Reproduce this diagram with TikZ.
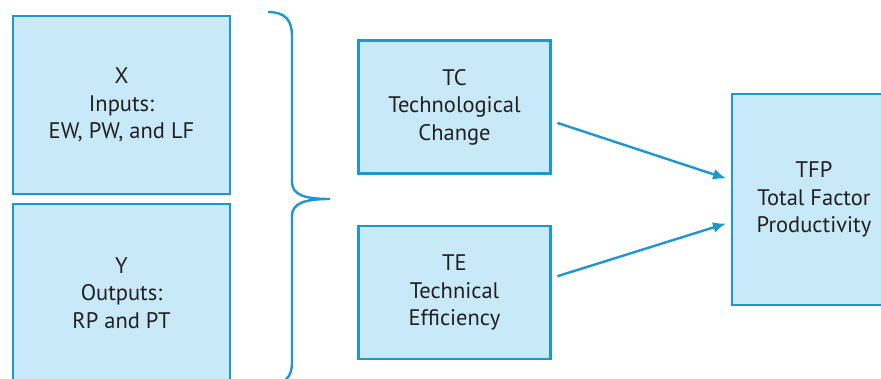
\documentclass[tikz,border=0pt]{standalone}
\usepackage{fontspec}
\setmainfont{PT Sans}
\usepackage{tikz}
\usetikzlibrary{arrows.meta}
\usetikzlibrary{positioning}
\definecolor{boxblue}{HTML}{1E96D0}
\definecolor{boxfill}{HTML}{C8E9F8}
\definecolor{boxtext}{HTML}{231F20}
\tikzset{box/.style = {draw=boxblue, fill=boxfill, line width=2.4pt,
                       text=boxtext, align=center, inner sep=0pt,
                       font=\fontsize{22.5}{27.5}\selectfont}}
\tikzset{flow/.style = {draw=boxblue, line width=2.4pt,
                        -{Latex[length=13pt,width=11pt]}}}

\begin{document}
\begin{tikzpicture}[x=1pt, y=-1pt]
    \useasboundingbox (0, 0) rectangle (881, 378);

    \node [box, minimum width=217pt, minimum height=178pt] (x) at (121.5, 105) {X\\Inputs:\\EW, PW, and LF};
    \node [box, minimum width=217pt, minimum height=178pt] (y) at (121.5, 293) {Y\\Outputs:\\RP and PT};

    \draw [boxblue, line width=2.4pt]
      (268, 12) .. controls (285, 12) and (292, 20) .. (292, 36) -- (292, 182)
      .. controls (292, 195) and (305, 199) .. (330, 199)
      .. controls (305, 199) and (292, 203) .. (292, 216) -- (292, 362)
      .. controls (292, 378) and (285, 384) .. (268, 384);

    \node [box, minimum width=192pt, minimum height=133pt] (tc) at (454.5, 107) {TC\\Technological\\Change};
    \node [box, minimum width=192pt, minimum height=133pt] (te) at (454.5, 292.5) {TE\\Technical\\Efficiency};
    \node [box, minimum width=164pt, minimum height=211pt] (tfp) at (814, 199.5) {TFP\\Total Factor\\Productivity};

    \draw [flow, shorten <=6pt, shorten >=5pt] ([yshift=-14pt]tc.east) -- ([yshift=19.5pt]tfp.west);
    \draw [flow, shorten <=6pt, shorten >=5pt] ([yshift=14.5pt]te.east) -- ([yshift=-22.5pt]tfp.west);
\end{tikzpicture}
\end{document}
